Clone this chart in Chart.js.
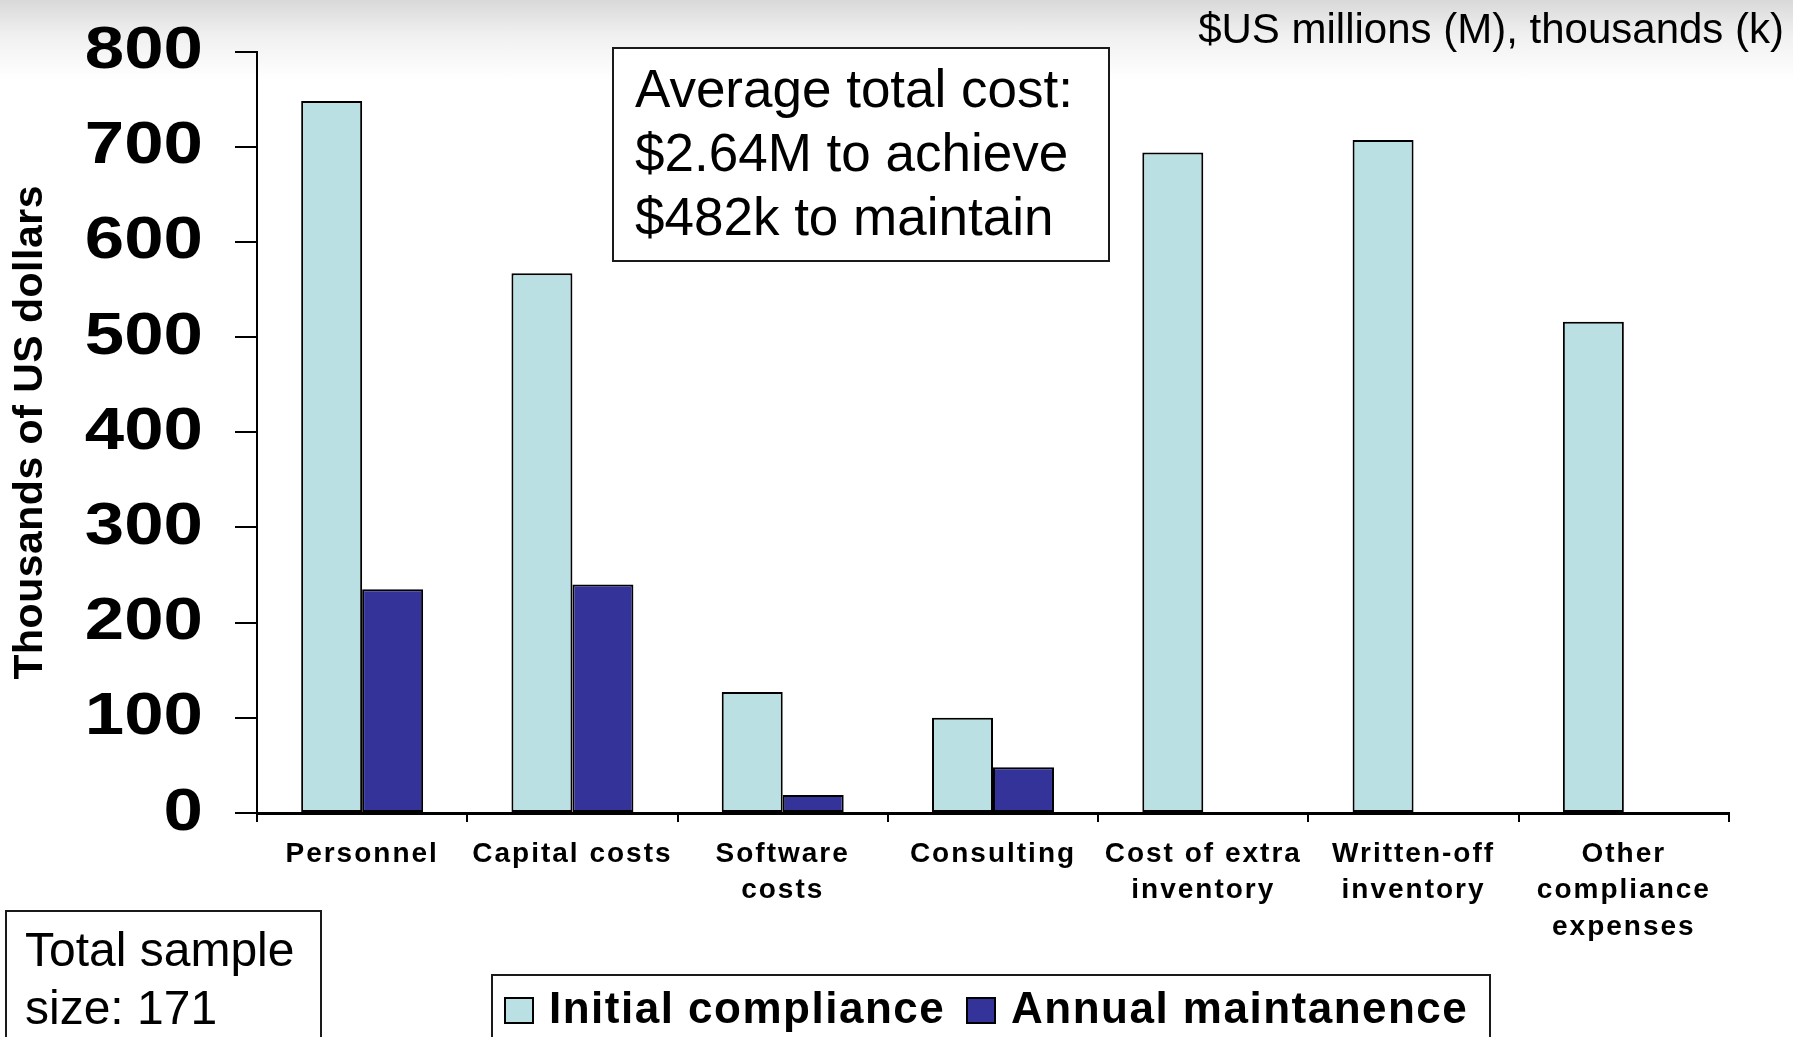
<!DOCTYPE html>
<html>
<head>
<meta charset="utf-8">
<title>Compliance costs</title>
<script src="https://cdn.jsdelivr.net/npm/chart.js@4.4.1/dist/chart.umd.min.js"></script>
<style>
  html, body { margin: 0; padding: 0; }
  body {
    width: 1793px; height: 1037px; overflow: hidden;
    background: linear-gradient(#d9d9d9 0px, #f0f0f0 35px, #ffffff 80px);
  }
  #wrap { position: relative; width: 1793px; height: 1037px; }
</style>
</head>
<body>
<div id="wrap"><canvas id="costChart" width="1793" height="1037"></canvas></div>
<script>
// cost categories (multi-line labels)
const categories = [
    ['Personnel'],
    ['Capital costs'],
    ['Software', 'costs'],
    ['Consulting'],
    ['Cost of extra', 'inventory'],
    ['Written-off', 'inventory'],
    ['Other', 'compliance', 'expenses']
];

// thousands of US dollars
const initialCompliance = [748, 567, 127, 100, 694, 707, 516];
const annualMaintenance = [235, 240, 19, 48, null, null, null];

const seriesNames = ['Initial compliance', 'Annual maintanence'];
const seriesColors = ['#bbe0e3', '#333399'];

const yMin = 0;
const yMax = 800;
const yStep = 100;

const unitNote = '$US millions (M), thousands (k)';
const averageNote = ['Average total cost:', '$2.64M to achieve', '$482k to maintain'];
const sampleNote = ['Total sample', 'size: 171'];

const FONT = "'Liberation Sans', Arial, Helvetica, sans-serif";

// the bold axis text is set wide: letter spacing for category labels,
// a horizontal stretch (around the right-aligned anchor) for the value labels
const wideTextPlugin = {
    id: 'wideText',
    afterUpdate(chart) {
        Object.values(chart.scales).forEach(scale => {
            if (scale._wideWrapped) return;
            const opts = scale.options;
            const drawLabels = scale.drawLabels.bind(scale);
            const drawTitle = scale.drawTitle.bind(scale);
            scale.drawLabels = (area) => {
                const c = scale.ctx;
                c.save();
                c.letterSpacing = opts.labelSpacing || '0px';
                if (opts.labelStretch) {
                    const anchorX = scale.right - opts.grid.tickLength - opts.ticks.padding;
                    c.translate(anchorX, 0);
                    c.scale(opts.labelStretch, 1);
                    c.translate(-anchorX, 0);
                }
                drawLabels(area);
                c.restore();
            };
            scale.drawTitle = (area) => {
                const c = scale.ctx;
                c.save();
                c.letterSpacing = opts.titleSpacing || '0px';
                drawTitle(area);
                c.restore();
            };
            scale._wideWrapped = true;
        });
    }
};

function drawBox(ctx, x, y, w, h) {
    ctx.save();
    ctx.fillStyle = '#ffffff';
    ctx.fillRect(x, y, w, h);
    ctx.strokeStyle = '#1a1a1a';
    ctx.lineWidth = 2;
    ctx.strokeRect(x, y, w, h);
    ctx.restore();
}

function drawLines(ctx, lines, x, firstY, step, font) {
    ctx.save();
    ctx.font = font;
    ctx.fillStyle = '#000';
    ctx.textAlign = 'left';
    ctx.textBaseline = 'middle';
    lines.forEach((line, i) => ctx.fillText(line, x, firstY + i * step));
    ctx.restore();
}

// text boxes and the boxed legend under the chart
const notesPlugin = {
    id: 'notes',
    afterDraw(chart) {
        const ctx = chart.ctx;

        ctx.save();
        ctx.font = `42px ${FONT}`;
        ctx.fillStyle = '#000';
        ctx.textAlign = 'right';
        ctx.textBaseline = 'middle';
        ctx.fillText(unitNote, 1784, 31);
        ctx.restore();

        drawBox(ctx, 613, 48, 496, 213);
        drawLines(ctx, averageNote, 635, 92, 64, `53px ${FONT}`);

        drawBox(ctx, 6, 911, 315, 200);
        drawLines(ctx, sampleNote, 25, 953, 58, `48px ${FONT}`);

        // legend
        drawBox(ctx, 492, 975, 998, 120);
        const items = chart.data.datasets.map(ds => ({ label: ds.label, color: ds.backgroundColor }));
        const itemX = [505, 967];
        ctx.save();
        ctx.font = `bold 44px ${FONT}`;
        ctx.letterSpacing = '1.5px';
        ctx.textBaseline = 'alphabetic';
        items.forEach((item, i) => {
            ctx.fillStyle = item.color;
            ctx.fillRect(itemX[i], 998, 28, 25);
            ctx.strokeStyle = '#000';
            ctx.lineWidth = 2;
            ctx.strokeRect(itemX[i], 998, 28, 25);
            ctx.fillStyle = '#000';
            ctx.fillText(item.label, itemX[i] + 44, 1023);
        });
        ctx.restore();
    }
};

const ctx = document.getElementById('costChart').getContext('2d');
new Chart(ctx, {
    type: 'bar',
    data: {
        labels: categories,
        datasets: [
            {
                label: seriesNames[0],
                data: initialCompliance,
                backgroundColor: seriesColors[0],
                borderColor: '#000',
                borderWidth: 2,
                borderSkipped: false
            },
            {
                label: seriesNames[1],
                data: annualMaintenance,
                backgroundColor: seriesColors[1],
                borderColor: '#000',
                borderWidth: 2,
                borderSkipped: false
            }
        ]
    },
    options: {
        responsive: false,
        animation: false,
        categoryPercentage: 0.58,
        barPercentage: 1.0,
        layout: {
            padding: { top: 51.5, right: 64, bottom: 0, left: 0 }
        },
        plugins: {
            legend: { display: false },
            tooltip: { enabled: false }
        },
        scales: {
            x: {
                labelSpacing: '2px',
                grid: {
                    offset: true,
                    drawOnChartArea: false,
                    tickLength: 9,
                    color: '#000',
                    lineWidth: 2
                },
                border: { color: '#000', width: 3 },
                ticks: {
                    color: '#000',
                    padding: 14,
                    maxRotation: 0,
                    autoSkip: false,
                    font: { family: FONT, size: 28, weight: 'bold', lineHeight: 1.3 }
                },
                afterFit(scale) { scale.height = 224; }
            },
            y: {
                min: yMin,
                max: yMax,
                labelStretch: 1.18,
                titleSpacing: '0.5px',
                grid: {
                    drawOnChartArea: false,
                    tickLength: 22,
                    color: '#000',
                    lineWidth: 2
                },
                border: { color: '#000', width: 2 },
                ticks: {
                    stepSize: yStep,
                    color: '#000',
                    padding: 32,
                    // small line height keeps the top label from pushing the plot area down
                    font: { family: FONT, size: 60, weight: 'bold', lineHeight: 0.4 }
                },
                title: {
                    display: true,
                    text: 'Thousands of US dollars',
                    color: '#000',
                    padding: { top: 6, bottom: 0 },
                    font: { family: FONT, size: 41, weight: 'bold', lineHeight: 1.2 }
                },
                afterFit(scale) { scale.width = 257; }
            }
        }
    },
    plugins: [wideTextPlugin, notesPlugin]
});
</script>
</body>
</html>
